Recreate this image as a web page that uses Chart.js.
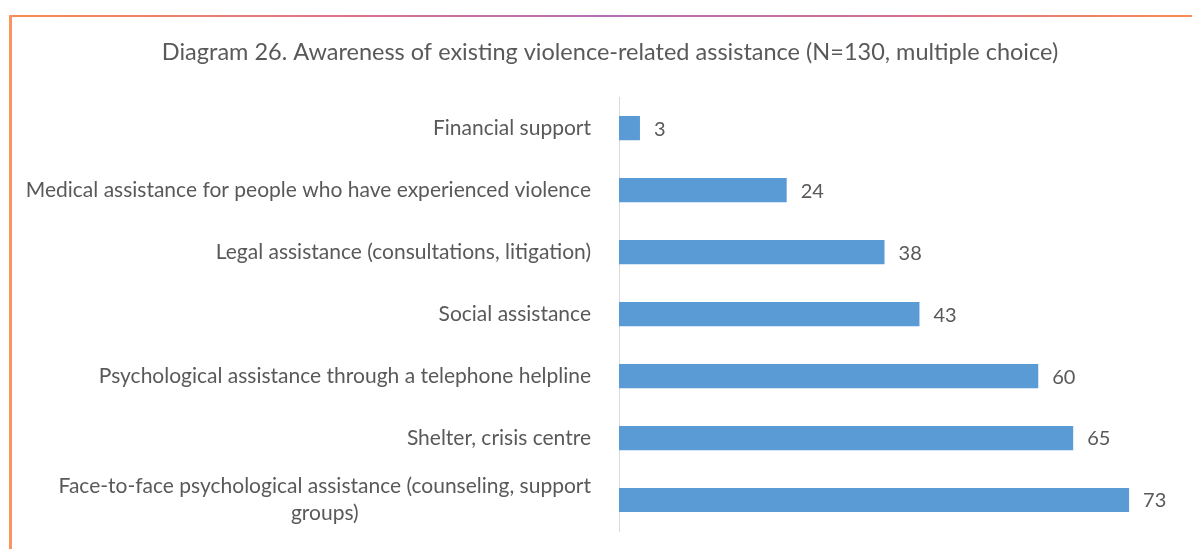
<!DOCTYPE html>
<html>
<head>
<meta charset="utf-8">
<script src="https://cdn.jsdelivr.net/npm/chart.js@4/dist/chart.umd.min.js"></script>
<style>
html,body{margin:0;padding:0;background:#fff;overflow:hidden;}
#wrap{position:relative;width:1192px;height:549px;}
#topLine{position:absolute;left:9px;top:15px;width:1183px;height:2px;
background:linear-gradient(to right,#f98c52 0%,#d9748f 30%,#b06fb5 50%,#d27293 75%,#f98c52 100%);}
#leftLine{position:absolute;left:9px;top:15px;width:3px;height:534px;background:#fb9460;}
#chartBox{position:absolute;left:0;top:0;width:1192px;height:549px;}
</style>
</head>
<body>
<div id="wrap">
<div id="topLine"></div>
<div id="leftLine"></div>
<div id="chartBox"><canvas id="awareness"></canvas></div>
</div>
<script>
let categories = [
"Financial support",
"Medical assistance for people who have experienced violence",
"Legal assistance (consultations, litigation)",
"Social assistance",
"Psychological assistance through a telephone helpline",
"Shelter, crisis centre",
["Face-to-face psychological assistance (counseling, support","groups)"]
];
let counts = [3,24,38,43,60,65,73];
let chartTitle = "Diagram 26. Awareness of existing violence-related assistance (N=130, multiple choice)";

let textColor = "#595959";
let labelFont = "21px Lato";

// category names: single lines right aligned, wrapped lines centred on each other
let categoryLabels = {
id:"categoryLabels",
afterDraw(chart){
let ctx = chart.ctx;
let y = chart.scales.y;
let right = chart.chartArea.left - 28;
ctx.save();
ctx.font = labelFont;
ctx.fillStyle = textColor;
ctx.textBaseline = "middle";
categories.forEach((lab,i)=>{
let cy = y.getPixelForValue(i);
if(Array.isArray(lab)){
let w = Math.max(...lab.map(l=>ctx.measureText(l).width));
let lh = 27;
ctx.textAlign = "center";
lab.forEach((l,j)=>{
ctx.fillText(l, right - w/2, cy + (j-(lab.length-1)/2)*lh);
});
}else{
ctx.textAlign = "right";
ctx.fillText(lab, right, cy);
}
});
ctx.restore();
}
};

// value at the end of each bar
let valueLabels = {
id:"valueLabels",
afterDatasetsDraw(chart){
let ctx = chart.ctx;
let meta = chart.getDatasetMeta(0);
ctx.save();
ctx.font = "20px Lato";
ctx.fillStyle = textColor;
ctx.textAlign = "left";
ctx.textBaseline = "middle";
meta.data.forEach((bar,i)=>{
ctx.fillText(String(counts[i]), bar.x + 14, bar.y + 1);
});
ctx.restore();
}
};

new Chart(document.getElementById("awareness"),{
type:"bar",
data:{
labels:categories,
datasets:[{
data:counts,
backgroundColor:"#5b9bd5",
barPercentage:0.39,
categoryPercentage:1
}]
},
options:{
indexAxis:"y",
responsive:true,
maintainAspectRatio:false,
animation:false,
layout:{padding:{left:42,right:14,top:0,bottom:18}},
plugins:{
legend:{display:false},
tooltip:{enabled:false},
title:{
display:true,
text:chartTitle,
color:textColor,
font:{family:"Lato",size:23.5,weight:"normal"},
padding:{top:38,bottom:31}
}
},
scales:{
x:{display:false,min:0,max:80},
y:{
grid:{display:false},
border:{display:true,color:"#d9d9d9",width:1},
ticks:{display:false},
afterFit(scale){scale.width = 577;}
}
}
},
plugins:[categoryLabels,valueLabels]
});
</script>
</body>
</html>
